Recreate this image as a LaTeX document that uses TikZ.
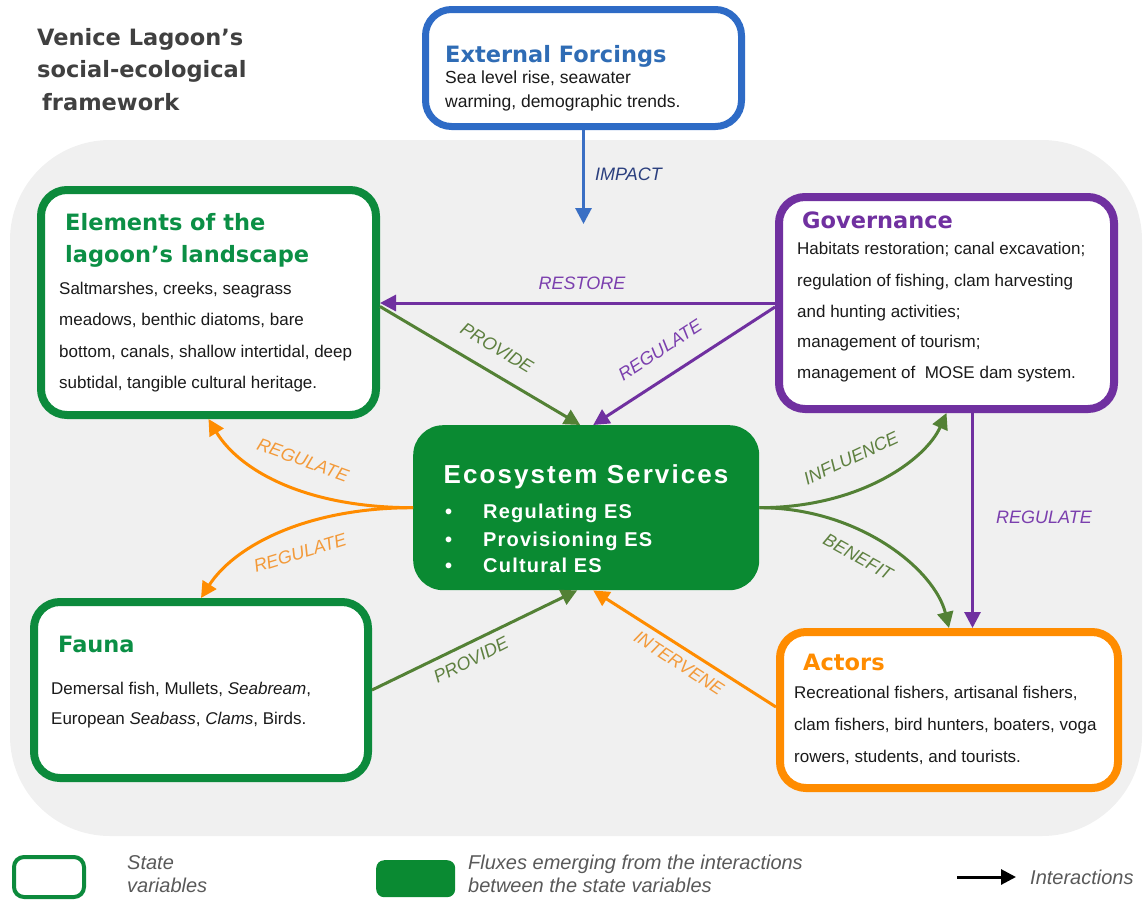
\documentclass[tikz,border=0pt]{standalone}
\usepackage{fontspec}
\setmainfont{Liberation Sans}
\newfontfamily\headfont{DejaVu Sans}
\newfontfamily\esfont[LetterSpace=8]{Liberation Sans}
\newfontfamily\esitemfont[LetterSpace=6]{Liberation Sans}
\usetikzlibrary{arrows.meta,calc}
\definecolor{bg}{HTML}{F0F0F0}
\definecolor{boxgreen}{HTML}{0C8A3C}
\definecolor{esgreen}{HTML}{0A8A32}
\definecolor{headgreen}{HTML}{0B8F45}
\definecolor{bluebox}{HTML}{2E6BC6}
\definecolor{bluehead}{HTML}{2F6CB5}
\definecolor{impactc}{HTML}{3A6FC4}
\definecolor{impactlab}{HTML}{2B3F7E}
\definecolor{purp}{HTML}{7030A0}
\definecolor{purplab}{HTML}{7B3FAE}
\definecolor{orng}{HTML}{FF8C00}
\definecolor{ornglab}{HTML}{F39A3A}
\definecolor{olive}{HTML}{538135}
\definecolor{olivelab}{HTML}{5E8040}
\definecolor{titlegrey}{HTML}{404040}
\definecolor{textc}{HTML}{1A1A1A}
\definecolor{legc}{HTML}{595959}
\tikzset{
  sbox/.style={draw, line width=8pt, rounded corners=26pt, fill=white, anchor=north west, inner sep=0pt},
  head/.style={anchor=base west, inner sep=0pt, font=\headfont\bfseries\fontsize{22.5}{22.5}\selectfont},
  body/.style={anchor=base west, inner sep=0pt, text=textc, font=\fontsize{17}{17}\selectfont},
  lab/.style={inner sep=0pt, font=\itshape\fontsize{18}{18}\selectfont},
  conn/.style={line width=3pt, -{Triangle[length=16pt,width=16pt]}},
  ttl/.style={anchor=base west, inner sep=0pt, text=titlegrey, font=\headfont\bfseries\fontsize{22.5}{22.5}\selectfont},
  esitem/.style={anchor=base west, inner sep=0pt, text=white, font=\esitemfont\bfseries\fontsize{20}{20}\selectfont},
  leg/.style={anchor=base west, inner sep=0pt, text=legc, font=\itshape\fontsize{20}{20}\selectfont}
}
\begin{document}
\begin{tikzpicture}[x=1pt,y=-1pt]
\useasboundingbox (0,0) rectangle (1144,905);
% lagoon background
\fill[bg, rounded corners=100pt] (10,140) rectangle (1142,836);

% title
\node[ttl] (t1) at (37,45) {Venice Lagoon’s};
\node[ttl] (t2) at (37,77) {social-ecological};
\node[ttl] (t3) at (42,110) {framework};

% boxes (anchor = outer corner)
\node[sbox, draw=bluebox, line width=7pt, minimum width=316, minimum height=117] (ext) at (422,6) {};
\node[sbox, draw=boxgreen, minimum width=335, minimum height=225] (elem) at (37,186) {};
\node[sbox, draw=purp, minimum width=335, minimum height=212] (gov) at (775,193) {};
\node[sbox, draw=boxgreen, minimum width=334, minimum height=176] (fauna) at (30,598) {};
\node[sbox, draw=orng, minimum width=338, minimum height=156] (actors) at (776,628) {};
\node[fill=esgreen, rounded corners=30pt, anchor=north west, inner sep=0pt, minimum width=346, minimum height=165] (es) at (413,425) {};

% external forcings text
\node[head, text=bluehead] (exth) at (445,62) {External Forcings};
\node[body, font=\fontsize{17.5}{17.5}\selectfont] (extb1) at (445,83) {Sea level rise, seawater};
\node[body, font=\fontsize{17.5}{17.5}\selectfont] (extb2) at (445,107) {warming, demographic trends.};

% elements text
\node[head, text=headgreen] (elh1) at (65,230) {Elements of the};
\node[head, text=headgreen] (elh2) at (65,262) {lagoon’s landscape};
\node[body] (elb1) at (59,294) {Saltmarshes, creeks, seagrass};
\node[body] (elb2) at (59,325) {meadows, benthic diatoms, bare};
\node[body] (elb3) at (59,357) {bottom, canals, shallow intertidal, deep};
\node[body] (elb4) at (59,388) {subtidal, tangible cultural heritage.};

% governance text
\node[head, text=purp] (goh) at (802,228) {Governance};
\node[body] (gob1) at (797,254) {Habitats restoration; canal excavation;};
\node[body] (gob2) at (797,286) {regulation of fishing, clam harvesting};
\node[body] (gob3) at (797,317) {and hunting activities;};
\node[body] (gob4) at (797,347) {management of tourism;};
\node[body] (gob5) at (797,378) {management of \ MOSE dam system.};

% fauna text
\node[head, text=headgreen] (fah) at (58,652) {Fauna};
\node[body] (fab1) at (51,694) {Demersal fish, Mullets, \textit{Seabream},};
\node[body] (fab2) at (51,724) {European \textit{Seabass}, \textit{Clams}, Birds.};

% actors text
\node[head, text=orng] (ach) at (803,670) {Actors};
\node[body] (acb1) at (794,698) {Recreational fishers, artisanal fishers,};
\node[body] (acb2) at (794,730) {clam fishers, bird hunters, boaters, voga};
\node[body] (acb3) at (794,762) {rowers, students, and tourists.};

% ecosystem services text
\node[anchor=base, inner sep=0pt, text=white, font=\esfont\bfseries\fontsize{26}{26}\selectfont] (esh) at (586,483) {Ecosystem Services};
\node[esitem] (esd1) at (445,518) {•};
\node[esitem] (esd2) at (445,546) {•};
\node[esitem] (esd3) at (445,572) {•};
\node[esitem] (esi1) at (483,518) {Regulating ES};
\node[esitem] (esi2) at (483,546) {Provisioning ES};
\node[esitem] (esi3) at (483,572) {Cultural ES};

% connectors
\coordinate (impend) at ($(ext.south)+(0,94)$);
\draw[conn, impactc] (ext.south) -- (impend);
\node[lab, text=impactlab, anchor=base west] (limp) at (595,180) {IMPACT};

\draw[conn, purp] (gov.west) -- (gov.west -| elem.east);
\node[lab, text=purplab, anchor=base] (lres) at (582,289) {RESTORE};

\draw[conn, olive] ($(elem.east)+(0,4)$) -- ($(es.north)+(-6,0)$);
\node[lab, text=olivelab, rotate=-31] (lprov1) at (497,348) {PROVIDE};

\draw[conn, purp] ($(gov.west)+(0,4)$) -- ($(es.north)+(7,0)$);
\node[lab, text=purplab, rotate=33] (lreg1) at (660,350) {REGULATE};

\draw[conn, orng] (es.west) .. controls ($(es.west)+(-110,0)$) and ($(elem.south)+(30,50)$) .. (elem.south);
\node[lab, text=ornglab, rotate=-20] (lreg2) at (303,460) {REGULATE};
\draw[conn, orng] (es.west) .. controls ($(es.west)+(-110,0)$) and ($(fauna.north)+(32,-50)$) .. (fauna.north);
\node[lab, text=ornglab, rotate=17] (lreg3) at (300,553) {REGULATE};

\draw[conn, olive] (es.east) .. controls ($(es.east)+(100,0)$) and ($(gov.south)+(-21,47)$) .. (gov.south);
\node[lab, text=olivelab, rotate=25] (linf) at (851,458) {INFLUENCE};
\draw[conn, olive] (es.east) .. controls ($(es.east)+(100,0)$) and ($(actors.north)+(-14,-58)$) .. (actors.north);
\node[lab, text=olivelab, rotate=-29] (lben) at (858,557) {BENEFIT};

\coordinate (vtop) at ($(gov.south)+(26,0)$);
\draw[conn, purp] (vtop) -- (vtop |- actors.north);
\node[lab, text=purplab] (lreg4) at (1044,517) {REGULATE};

\draw[conn, olive] (fauna.east) -- ($(es.south)+(-9,0)$);
\node[lab, text=olivelab, rotate=27] (lprov2) at (471,660) {PROVIDE};

\draw[conn, orng] ($(actors.west)+(0,-3)$) -- ($(es.south)+(7,0)$);
\node[lab, text=ornglab, rotate=-33] (lint) at (679,663) {INTERVENE};

% legend
\node[draw=boxgreen, line width=4pt, rounded corners=10pt, fill=white, anchor=north west, inner sep=0pt, minimum width=70, minimum height=40] (lg1) at (12,855) {};
\node[leg] (lgt1) at (127,869) {State};
\node[leg] (lgt2) at (127,892) {variables};
\node[fill=esgreen, rounded corners=8pt, anchor=north west, inner sep=0pt, minimum width=79, minimum height=37] (lg2) at (376,860) {};
\node[leg] (lgt3) at (468,869) {Fluxes emerging from the interactions};
\node[leg] (lgt4) at (468,892) {between the state variables};
\coordinate (la1) at (957,877);
\coordinate (la2) at (1016,877);
\draw[line width=3pt, -{Triangle[length=15pt,width=15pt]}] (la1) -- (la2);
\node[leg] (lgt5) at (1030,884) {Interactions};
\end{tikzpicture}
\end{document}
